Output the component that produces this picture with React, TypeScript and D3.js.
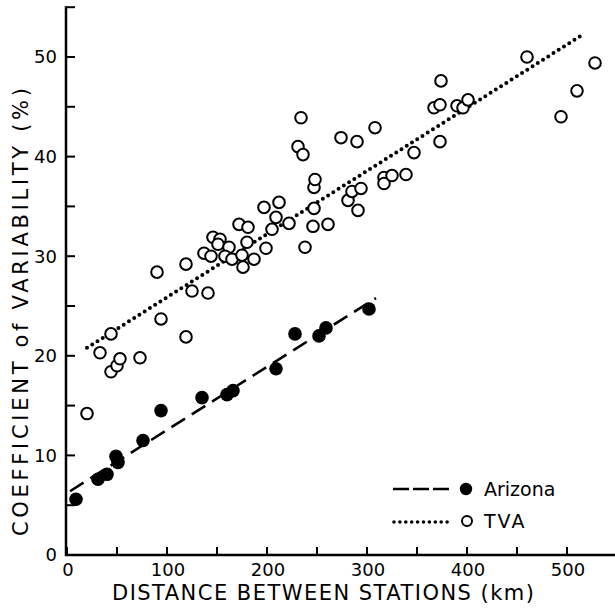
import React from 'react';
import * as d3 from 'd3';

// distance between stations (km) and coefficient of variability (%)
const arizonaDist = [9, 31, 40, 49, 51, 76, 94, 135, 160, 166, 209, 228, 252, 259, 302];
const arizonaCv = [5.6, 7.6, 8.1, 9.9, 9.3, 11.5, 14.5, 15.8, 16.1, 16.5, 18.7, 22.2, 22.0, 22.8, 24.7];

const tvaDist = [
  20, 33, 44, 44, 50, 53, 73, 90, 94, 119, 125, 119, 141, 146, 153, 151, 137, 144, 162, 158,
  165, 175, 176, 187, 180, 172, 181, 199, 205, 197, 209, 212, 222, 234, 231, 236, 238, 246, 247, 247,
  248, 261, 274, 281, 285, 290, 291, 294, 308, 317, 317, 325, 339, 347, 367, 373, 374, 373, 390, 396,
  401, 460, 494, 510, 528,
];
const tvaCv = [
  14.2, 20.3, 22.2, 18.4, 19.0, 19.7, 19.8, 28.4, 23.7, 29.2, 26.5, 21.9, 26.3, 31.9, 31.7, 31.2, 30.3, 30.0, 30.9, 30.0,
  29.7, 30.1, 28.9, 29.7, 31.4, 33.2, 32.9, 30.8, 32.7, 34.9, 33.9, 35.4, 33.3, 43.9, 41.0, 40.2, 30.9, 33.0, 34.8, 36.9,
  37.7, 33.2, 41.9, 35.6, 36.5, 41.5, 34.6, 36.8, 42.9, 37.9, 37.3, 38.1, 38.2, 40.4, 44.9, 45.2, 47.6, 41.5, 45.1, 44.9,
  45.7, 50.0, 44.0, 46.6, 49.4,
];

// fitted lines (end points)
const arizonaFitDist = [3, 309];
const arizonaFitCv = [6.4, 25.8];
const tvaFitDist = [20, 515];
const tvaFitCv = [20.8, 52.2];

const xTicks = [0, 50, 100, 150, 200, 250, 300, 350, 400, 450, 500];
const xLabels = [0, 100, 200, 300, 400, 500];
const yTicks = [0, 5, 10, 15, 20, 25, 30, 35, 40, 45, 50, 55];
const yLabels = [0, 10, 20, 30, 40, 50];

const width = 615;
const height = 609;
const font = '"DejaVu Sans", sans-serif';

const x = d3.scaleLinear().domain([0, 500]).range([67, 567]);
const y = d3.scaleLinear().domain([0, 50]).range([555, 57]);

const line = d3.line<[number, number]>().x(d => x(d[0])).y(d => y(d[1]));

export default function App() {
  const arizona = arizonaDist.map((d, i) => [d, arizonaCv[i]] as [number, number]);
  const tva = tvaDist.map((d, i) => [d, tvaCv[i]] as [number, number]);
  const arizonaFit = arizonaFitDist.map((d, i) => [d, arizonaFitCv[i]] as [number, number]);
  const tvaFit = tvaFitDist.map((d, i) => [d, tvaFitCv[i]] as [number, number]);

  const x0 = x(0) - 1;
  const yBase = y(0);

  return (
    <svg width={width} height={height} style={{ position: 'absolute', left: 0, top: 0, background: '#fff' }}
      fontFamily={font}>
      {/* axes */}
      <line x1={x0} x2={x0} y1={y(55) - 1} y2={yBase + 1} stroke="#000" strokeWidth={2.5} />
      <line x1={x0 - 1} x2={width} y1={yBase} y2={yBase} stroke="#000" strokeWidth={2.5} />
      {yTicks.map(t => (
        <line key={'yt' + t} x1={x0} x2={x0 + 9} y1={y(t)} y2={y(t)} stroke="#000" strokeWidth={2} />
      ))}
      {xTicks.map(t => (
        <line key={'xt' + t} x1={x(t)} x2={x(t)} y1={yBase} y2={yBase - 8} stroke="#000" strokeWidth={2} />
      ))}
      {yLabels.map(t => (
        <text key={'yl' + t} x={57} y={y(t)} dy="0.36em" textAnchor="end" fontSize={18}>{t}</text>
      ))}
      {xLabels.map(t => (
        <text key={'xl' + t} x={x(t) + 1} y={576} textAnchor="middle" fontSize={18}>{t}</text>
      ))}

      {/* axis titles */}
      <text x={323} y={600} textAnchor="middle" fontSize={21} textLength={422} lengthAdjust="spacing">
        DISTANCE BETWEEN STATIONS (km)
      </text>
      <text transform="translate(28,312) rotate(-90)" textAnchor="middle" fontSize={21}
        textLength={448} lengthAdjust="spacing">
        COEFFICIENT of VARIABILITY (%)
      </text>

      {/* fit lines */}
      <path d={line(arizonaFit) || ''} fill="none" stroke="#000" strokeWidth={2.6} strokeDasharray="16 8" />
      <path d={line(tvaFit) || ''} fill="none" stroke="#000" strokeWidth={4} strokeLinecap="round"
        strokeDasharray="0 6.2" />

      {/* points */}
      {tva.map((d, i) => (
        <circle key={'t' + i} cx={x(d[0])} cy={y(d[1])} r={5.8} fill="#fff" stroke="#000" strokeWidth={2} />
      ))}
      {arizona.map((d, i) => (
        <circle key={'a' + i} cx={x(d[0])} cy={y(d[1])} r={6.8} fill="#000" />
      ))}

      {/* legend */}
      <g>
        <line x1={393} x2={449} y1={489} y2={489} stroke="#000" strokeWidth={2.6} strokeDasharray="16 4" />
        <circle cx={466} cy={489} r={6.2} fill="#000" />
        <text x={484} y={496} fontSize={19}>Arizona</text>
        <line x1={394} x2={453} y1={522} y2={522} stroke="#000" strokeWidth={3.6} strokeLinecap="round"
          strokeDasharray="0 5.9" />
        <circle cx={467} cy={521} r={5} fill="#fff" stroke="#000" strokeWidth={2} />
        <text x={484} y={528} fontSize={19} letterSpacing={2}>TVA</text>
      </g>
    </svg>
  );
}
